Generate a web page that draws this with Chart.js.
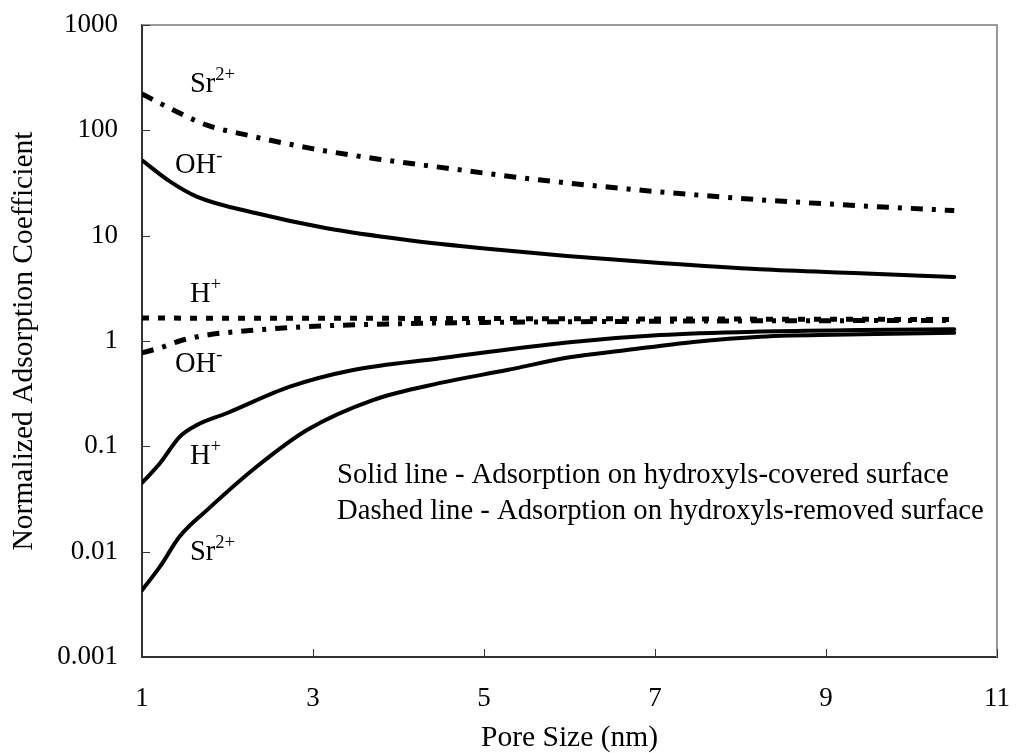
<!DOCTYPE html>
<html>
<head>
<meta charset="utf-8">
<script src="https://cdn.jsdelivr.net/npm/chart.js@4.4.0/dist/chart.umd.min.js"></script>
<style>
  body { margin: 0; background: #fff; }
  #wrap { width: 1016px; height: 753px; }
</style>
</head>
<body>
<div id="wrap"><canvas id="c"></canvas></div>
<script>
// pore size (nm) / normalized adsorption coefficient
var srSolidX = [1, 1.21, 1.44, 1.76, 2.34, 2.93, 3.7, 4.49, 5.27, 6.0, 6.67, 7.45, 8.23, 9.4, 10.5];
var srSolidY = [0.0043, 0.0072, 0.0139, 0.0248, 0.064, 0.143, 0.275, 0.4, 0.53, 0.7, 0.82, 0.98, 1.1, 1.16, 1.2];

var hSolidX = [1, 1.21, 1.44, 1.64, 1.99, 2.73, 3.47, 4.49, 5.97, 7.06, 8.23, 9.4, 10.5];
var hSolidY = [0.045, 0.069, 0.123, 0.159, 0.206, 0.368, 0.53, 0.685, 0.97, 1.14, 1.23, 1.27, 1.29];

var ohSolidX = [1, 1.33, 1.64, 2.34, 3.16, 4.1, 5.04, 5.97, 7.06, 8.23, 9.4, 10.5];
var ohSolidY = [52, 32.6, 23.5, 16.3, 11.75, 9.1, 7.5, 6.4, 5.5, 4.8, 4.4, 4.05];

var srDashX = [1, 1.25, 1.76, 2.23, 2.93, 3.75, 4.57, 5.39, 6.0, 7.02, 8.0, 8.97, 10.5];
var srDashY = [222, 174, 112, 90, 68.5, 53.5, 43.7, 35.8, 31.5, 26.2, 22.6, 20.1, 17.3];

var hDashX = [1, 4, 7, 10.5];
var hDashY = [1.65, 1.64, 1.62, 1.6];

var ohDashX = [1, 1.25, 1.44, 1.76, 2.23, 2.93, 3.7, 5, 7, 10.5];
var ohDashY = [0.77, 0.88, 1.0, 1.14, 1.25, 1.37, 1.44, 1.5, 1.54, 1.57];

var xTicks = [1, 3, 5, 7, 9, 11];
var yTicks = [0.001, 0.01, 0.1, 1, 10, 100, 1000];

// curve labels: text, superscript, anchor in data units
var curveLabels = [
  { text: "Sr", sup: "2+", x: 1.56, y: 232 },
  { text: "OH", sup: "-", x: 1.386, y: 39.4 },
  { text: "H", sup: "+", x: 1.56, y: 2.36 },
  { text: "OH", sup: "-", x: 1.386, y: 0.511 },
  { text: "H", sup: "+", x: 1.56, y: 0.0679 },
  { text: "Sr", sup: "2+", x: 1.56, y: 0.0083 }
];
var noteLines = [
  { text: "Solid line - Adsorption on hydroxyls-covered surface", x: 3.28, y: 0.0451 },
  { text: "Dashed line - Adsorption on hydroxyls-removed surface", x: 3.28, y: 0.0204 }
];

function pts(xs, ys) {
  return xs.map(function (x, i) { return { x: x, y: ys[i] }; });
}

var FONT = '"Liberation Serif", "Times New Roman", serif';

function line(xs, ys, dash, w) {
  return {
    data: pts(xs, ys),
    borderColor: "#000",
    borderWidth: w,
    borderDash: dash,
    pointRadius: 0,
    cubicInterpolationMode: "monotone",
    borderCapStyle: dash.length ? "butt" : "round",
    fill: false
  };
}

var extras = {
  id: "extras",
  afterDraw: function (chart) {
    var ctx = chart.ctx, a = chart.chartArea;
    var xs = chart.scales.x, ys = chart.scales.y;
    ctx.save();
    // top/right frame
    ctx.strokeStyle = "#9a9a9a";
    ctx.lineWidth = 2;
    ctx.beginPath();
    ctx.moveTo(a.left, a.top);
    ctx.lineTo(a.right, a.top);
    ctx.lineTo(a.right, a.bottom);
    ctx.stroke();
    // inward tick marks
    ctx.strokeStyle = "#333";
    ctx.lineWidth = 1;
    ctx.beginPath();
    yTicks.forEach(function (v) {
      var p = Math.round(ys.getPixelForValue(v)) + 0.5;
      ctx.moveTo(a.left, p);
      ctx.lineTo(a.left + 8, p);
    });
    xTicks.forEach(function (v) {
      var p = Math.round(xs.getPixelForValue(v)) + 0.5;
      ctx.moveTo(p, a.bottom);
      ctx.lineTo(p, a.bottom - 8);
    });
    ctx.stroke();
    // labels
    ctx.fillStyle = "#000";
    ctx.textBaseline = "alphabetic";
    ctx.textAlign = "left";
    curveLabels.forEach(function (l) {
      var px = xs.getPixelForValue(l.x), py = ys.getPixelForValue(l.y);
      ctx.font = "28.5px " + FONT;
      ctx.fillText(l.text, px, py);
      var w = ctx.measureText(l.text).width;
      ctx.font = "18.5px " + FONT;
      ctx.fillText(l.sup, px + w, py - 12);
    });
    ctx.font = "28.7px " + FONT;
    noteLines.forEach(function (l) {
      ctx.fillText(l.text, xs.getPixelForValue(l.x), ys.getPixelForValue(l.y));
    });
    ctx.restore();
  }
};

new Chart(document.getElementById("c"), {
  type: "line",
  data: {
    datasets: [
      line(srSolidX, srSolidY, [], 4),
      line(hSolidX, hSolidY, [], 4),
      line(ohSolidX, ohSolidY, [], 4),
      line(srDashX, srDashY, [12, 9, 4, 9], 5),
      line(hDashX, hDashY, [7, 9], 5),
      line(ohDashX, ohDashY, [12, 9, 4, 9], 5)
    ]
  },
  options: {
    responsive: true,
    maintainAspectRatio: false,
    animation: false,
    layout: { padding: { top: 25, right: 19, left: 0, bottom: 0 } },
    plugins: { legend: { display: false }, tooltip: { enabled: false } },
    scales: {
      x: {
        type: "linear",
        min: 1,
        max: 11,
        afterBuildTicks: function (s) { s.ticks = xTicks.map(function (v) { return { value: v }; }); },
        afterFit: function (s) { s.height = 96; s.paddingLeft = 0; s.paddingRight = 0; },
        grid: { display: false, drawTicks: false },
        border: { display: true, color: "#333", width: 2 },
        ticks: { color: "#000", font: { family: FONT, size: 27 }, padding: 26, maxRotation: 0 },
        title: { display: true, text: "Pore Size (nm)", color: "#000", font: { family: FONT, size: 29.5 }, padding: { top: 0, bottom: -3 } }
      },
      y: {
        type: "logarithmic",
        min: 0.001,
        max: 1000,
        afterBuildTicks: function (s) { s.ticks = yTicks.map(function (v) { return { value: v }; }); },
        afterFit: function (s) { s.width = 142; s.paddingTop = 0; s.paddingBottom = 0; },
        grid: { display: false, drawTicks: false },
        border: { display: true, color: "#333", width: 2 },
        ticks: {
          color: "#000",
          font: { family: FONT, size: 27 },
          padding: 24,
          callback: function (v) { return String(v); }
        },
        title: { display: true, text: "Normalized Adsorption Coefficient", color: "#000", font: { family: FONT, size: 29.5 }, padding: { top: 7, bottom: 0 } }
      }
    }
  },
  plugins: [extras]
});
</script>
</body>
</html>
